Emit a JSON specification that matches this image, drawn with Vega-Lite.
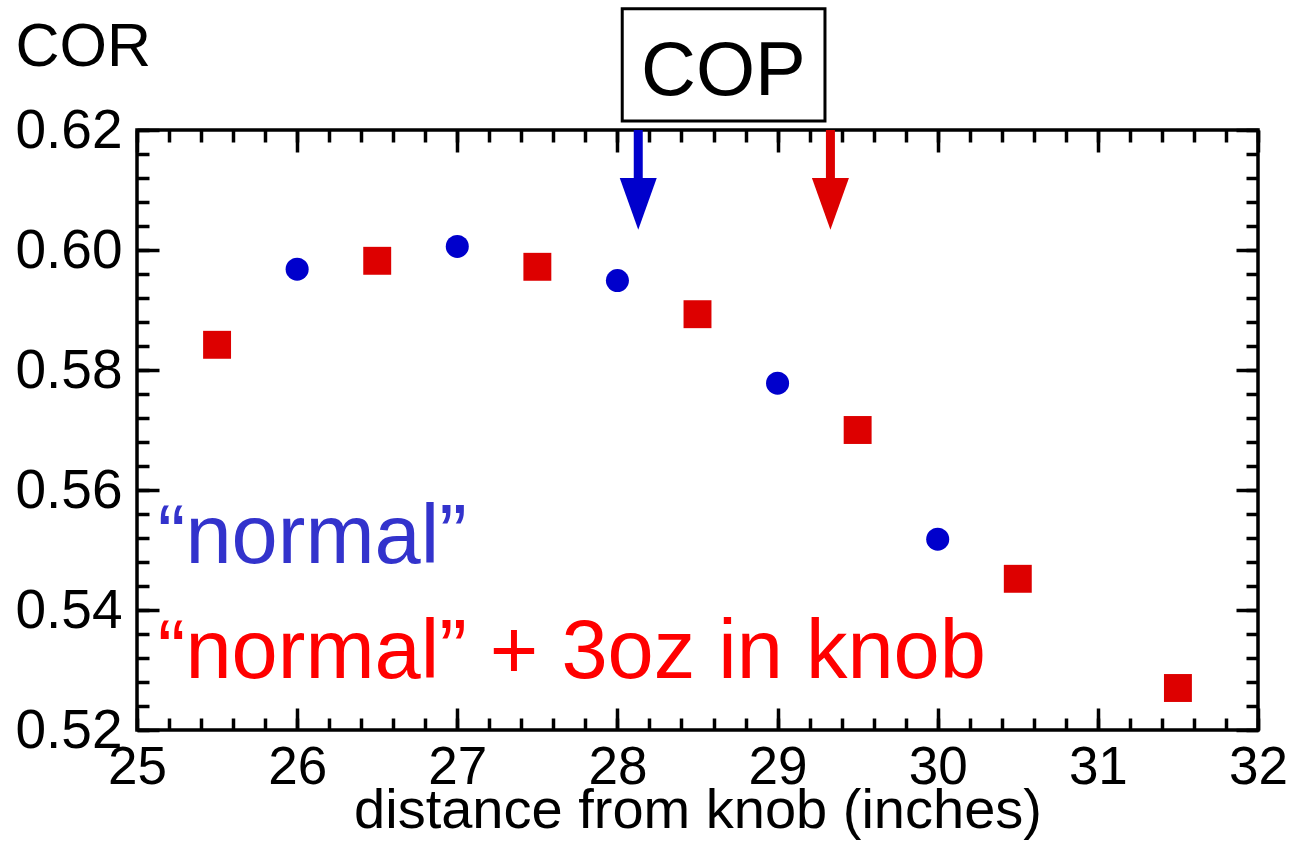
{
  "$schema": "https://vega.github.io/schema/vega-lite/v6.json",
  "width": 1121,
  "height": 600,
  "autosize": {"type": "none"},
  "padding": {"left": 137, "top": 130, "right": 41, "bottom": 112},
  "background": "white",
  "config": {
    "view": {"stroke": "black", "strokeWidth": 3.5},
    "font": "Liberation Sans",
    "axis": {"domain": false, "grid": false, "tickColor": "black", "tickWidth": 3.5, "labelColor": "black", "titleColor": "black", "labelFont": "Liberation Sans", "titleFont": "Liberation Sans", "titleFontWeight": "normal"}
  },
  "datasets": {
    "pts": [
      {"dist": 26, "cor": 0.5968, "series": "normal"},
      {"dist": 27, "cor": 0.6006, "series": "normal"},
      {"dist": 28, "cor": 0.5949, "series": "normal"},
      {"dist": 29, "cor": 0.5778, "series": "normal"},
      {"dist": 30, "cor": 0.5518, "series": "normal"},
      {"dist": 25.5, "cor": 0.5842, "series": "knob"},
      {"dist": 26.5, "cor": 0.5982, "series": "knob"},
      {"dist": 27.5, "cor": 0.5972, "series": "knob"},
      {"dist": 28.5, "cor": 0.5893, "series": "knob"},
      {"dist": 29.5, "cor": 0.5700, "series": "knob"},
      {"dist": 30.5, "cor": 0.5452, "series": "knob"},
      {"dist": 31.5, "cor": 0.5270, "series": "knob"}
    ],
    "arrows": [
      {"x": 28.13, "ytop": 0.62, "ybot": 0.6115, "yhead": 0.6077, "series": "normal"},
      {"x": 29.33, "ytop": 0.62, "ybot": 0.6115, "yhead": 0.6077, "series": "knob"}
    ],
    "box": [
      {"x1": 28.03, "x2": 29.296, "y1": 0.6215, "y2": 0.6402, "tx": 28.662, "ty": 0.6258, "label": "COP"}
    ],
    "notes": [
      {"x": 25.13, "y": 0.5478, "label": "“normal”", "c": "#3333CC"},
      {"x": 25.13, "y": 0.5287, "label": "“normal” + 3oz in knob", "c": "#FF0000"}
    ]
  },
  "resolve": {"axis": {"x": "independent", "y": "independent"}},
  "layer": [
    {
      "data": {"name": "pts"},
      "mark": {"type": "point", "filled": true, "opacity": 1},
      "encoding": {
        "x": {"field": "dist", "type": "quantitative",
              "scale": {"domain": [25, 32], "nice": false, "zero": false},
              "axis": {"orient": "bottom", "values": [25, 26, 27, 28, 29, 30, 31, 32], "tickSize": -22, "labelFontSize": 53, "labelPadding": 33, "labelBaseline": "top", "title": "distance from knob (inches)", "titleFontSize": 56, "titleBaseline": "alphabetic", "titleY": 97, "labelFlush": false}},
        "y": {"field": "cor", "type": "quantitative",
              "scale": {"domain": [0.52, 0.62], "nice": false, "zero": false},
              "axis": {"orient": "left", "values": [0.52, 0.54, 0.56, 0.58, 0.6, 0.62], "format": ".2f", "tickSize": -22, "labelFontSize": 55, "labelPadding": 37, "labelFlush": false, "title": "COR", "titleFontSize": 61, "titleAngle": 0, "titleAlign": "left", "titleBaseline": "alphabetic", "titleX": -122, "titleY": -65}},
        "color": {"field": "series", "type": "nominal", "scale": {"domain": ["normal", "knob"], "range": ["#0000CC", "#DD0000"]}, "legend": null},
        "shape": {"field": "series", "type": "nominal", "scale": {"domain": ["normal", "knob"], "range": ["circle", "square"]}, "legend": null},
        "size": {"field": "series", "type": "nominal", "scale": {"domain": ["normal", "knob"], "range": [530, 780]}, "legend": null}
      }
    },
    {
      "data": {"name": "pts"},
      "mark": {"type": "point", "opacity": 0},
      "encoding": {
        "x": {"field": "dist", "type": "quantitative",
              "axis": {"orient": "bottom", "values": [25, 25.2, 25.4, 25.6, 25.8, 26, 26.2, 26.4, 26.6, 26.8, 27, 27.2, 27.4, 27.6, 27.8, 28, 28.2, 28.4, 28.6, 28.8, 29, 29.2, 29.4, 29.6, 29.8, 30, 30.2, 30.4, 30.6, 30.8, 31, 31.2, 31.4, 31.6, 31.8, 32], "tickSize": -12, "labels": false, "title": null}},
        "y": {"field": "cor", "type": "quantitative",
              "axis": {"orient": "left", "values": [0.52, 0.524, 0.528, 0.532, 0.536, 0.54, 0.544, 0.548, 0.552, 0.556, 0.56, 0.564, 0.568, 0.572, 0.576, 0.58, 0.584, 0.588, 0.592, 0.596, 0.6, 0.604, 0.608, 0.612, 0.616, 0.62], "tickSize": -12, "labels": false, "title": null}}
      }
    },
    {
      "data": {"name": "pts"},
      "mark": {"type": "point", "opacity": 0},
      "encoding": {
        "x": {"field": "dist", "type": "quantitative",
              "axis": {"orient": "top", "values": [25, 26, 27, 28, 29, 30, 31, 32], "tickSize": -22, "labels": false, "title": null}},
        "y": {"field": "cor", "type": "quantitative",
              "axis": {"orient": "right", "values": [0.52, 0.54, 0.56, 0.58, 0.6, 0.62], "tickSize": -22, "labels": false, "title": null}}
      }
    },
    {
      "data": {"name": "pts"},
      "mark": {"type": "point", "opacity": 0},
      "encoding": {
        "x": {"field": "dist", "type": "quantitative",
              "axis": {"orient": "top", "values": [25, 25.2, 25.4, 25.6, 25.8, 26, 26.2, 26.4, 26.6, 26.8, 27, 27.2, 27.4, 27.6, 27.8, 28, 28.2, 28.4, 28.6, 28.8, 29, 29.2, 29.4, 29.6, 29.8, 30, 30.2, 30.4, 30.6, 30.8, 31, 31.2, 31.4, 31.6, 31.8, 32], "tickSize": -12, "labels": false, "title": null}},
        "y": {"field": "cor", "type": "quantitative",
              "axis": {"orient": "right", "values": [0.52, 0.524, 0.528, 0.532, 0.536, 0.54, 0.544, 0.548, 0.552, 0.556, 0.56, 0.564, 0.568, 0.572, 0.576, 0.58, 0.584, 0.588, 0.592, 0.596, 0.6, 0.604, 0.608, 0.612, 0.616, 0.62], "tickSize": -12, "labels": false, "title": null}}
      }
    },
    {
      "data": {"name": "arrows"},
      "mark": {"type": "rule", "strokeWidth": 9},
      "encoding": {
        "x": {"field": "x", "type": "quantitative", "axis": null},
        "y": {"field": "ytop", "type": "quantitative", "axis": null},
        "y2": {"field": "ybot"},
        "color": {"field": "series", "type": "nominal", "legend": null}
      }
    },
    {
      "data": {"name": "arrows"},
      "mark": {"type": "point", "filled": true, "opacity": 1, "shape": "M-1,-1.4L1,-1.4L0,1.4Z", "size": 1369},
      "encoding": {
        "x": {"field": "x", "type": "quantitative", "axis": null},
        "y": {"field": "yhead", "type": "quantitative", "axis": null},
        "color": {"field": "series", "type": "nominal", "legend": null}
      }
    },
    {
      "data": {"name": "box"},
      "mark": {"type": "rect", "fill": "white", "stroke": "black", "strokeWidth": 3},
      "encoding": {
        "x": {"field": "x1", "type": "quantitative", "axis": null},
        "x2": {"field": "x2"},
        "y": {"field": "y1", "type": "quantitative", "axis": null},
        "y2": {"field": "y2"}
      }
    },
    {
      "data": {"name": "box"},
      "mark": {"type": "text", "fontSize": 76, "align": "center", "baseline": "alphabetic", "color": "black", "font": "Liberation Sans"},
      "encoding": {
        "x": {"field": "tx", "type": "quantitative", "axis": null},
        "y": {"field": "ty", "type": "quantitative", "axis": null},
        "text": {"field": "label"}
      }
    },
    {
      "data": {"name": "notes"},
      "mark": {"type": "text", "fontSize": 83, "align": "left", "baseline": "alphabetic", "font": "Liberation Sans"},
      "encoding": {
        "x": {"field": "x", "type": "quantitative", "axis": null},
        "y": {"field": "y", "type": "quantitative", "axis": null},
        "text": {"field": "label"},
        "color": {"field": "c", "type": "nominal", "scale": null, "legend": null}
      }
    }
  ]
}
